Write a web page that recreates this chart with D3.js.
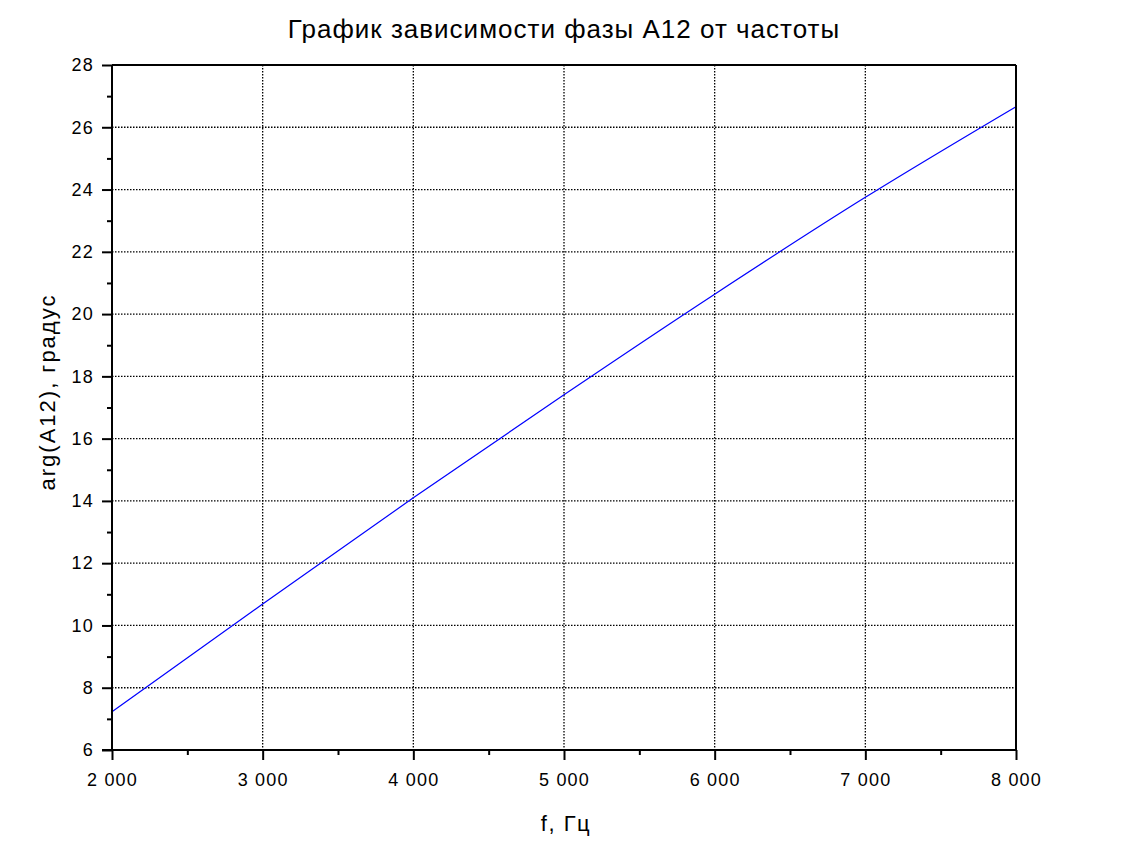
<!DOCTYPE html>
<html>
<head>
<meta charset="utf-8">
<script src="https://cdn.jsdelivr.net/npm/d3@7"></script>
<style>
  html, body { margin: 0; padding: 0; background: #fff; }
  text { font-family: "Liberation Sans", Arial, sans-serif; fill: #000; }
</style>
</head>
<body>
<svg id="chart" width="1124" height="854"></svg>
<script>
const freqs = [2000, 3000, 4000, 5000, 6000, 7000, 8000];
const phase = [7.23, 10.69, 14.1, 17.41, 20.64, 23.75, 26.66];
const xTicks = [2000, 3000, 4000, 5000, 6000, 7000, 8000];
const xMinorTicks = [2500, 3500, 4500, 5500, 6500, 7500];
const yTicks = [6, 8, 10, 12, 14, 16, 18, 20, 22, 24, 26, 28];
const yMinorTicks = [7, 9, 11, 13, 15, 17, 19, 21, 23, 25, 27];
const titleText = "График зависимости фазы A12 от частоты";
const xLabel = "f, Гц";
const yLabel = "arg(A12), градус";

const svg = d3.select("#chart");
const L = 112, R = 1016, T = 65, B = 750;
const x = d3.scaleLinear().domain([2000, 8000]).range([L, R]);
const y = d3.scaleLinear().domain([6, 28]).range([B, T]);
const fmt = v => d3.format(",")(v).replace(/,/g, " ");

// grid
const grid = svg.append("g").attr("stroke", "#000").attr("stroke-width", 1.3)
  .attr("stroke-dasharray", "1.5,1.5");
grid.selectAll(".gx").data(xTicks.slice(1, -1)).enter().append("line")
  .attr("x1", d => x(d)).attr("x2", d => x(d)).attr("y1", T).attr("y2", B);
grid.selectAll(".gy").data(yTicks.slice(1, -1)).enter().append("line")
  .attr("x1", L).attr("x2", R).attr("y1", d => y(d)).attr("y2", d => y(d));

// data line
svg.append("path").datum(freqs.map((f, i) => [f, phase[i]]))
  .attr("fill", "none").attr("stroke", "#0000ff").attr("stroke-width", 1.2)
  .attr("d", d3.line().curve(d3.curveMonotoneX).x(d => x(d[0])).y(d => y(d[1])));

// frame: top and right
svg.append("line").attr("x1", L).attr("x2", R).attr("y1", T).attr("y2", T)
  .attr("stroke", "#000").attr("stroke-width", 2);
svg.append("line").attr("x1", R).attr("x2", R).attr("y1", T).attr("y2", B)
  .attr("stroke", "#000").attr("stroke-width", 2);

// axes
const xAxis = svg.append("g").attr("transform", `translate(0,${B})`)
  .call(d3.axisBottom(x).tickValues(xTicks).tickFormat(fmt).tickSize(10).tickPadding(13));
const xMinor = svg.append("g").attr("transform", `translate(0,${B})`)
  .call(d3.axisBottom(x).tickValues(xMinorTicks).tickFormat("").tickSize(5));
const yAxis = svg.append("g").attr("transform", `translate(${L},0)`)
  .call(d3.axisLeft(y).tickValues(yTicks).tickSize(10).tickPadding(8));
const yMinor = svg.append("g").attr("transform", `translate(${L},0)`)
  .call(d3.axisLeft(y).tickValues(yMinorTicks).tickFormat("").tickSize(5));

[xAxis, xMinor, yAxis, yMinor].forEach(g => {
  g.selectAll("path.domain").attr("stroke", "#000").attr("stroke-width", 2);
  g.selectAll(".tick line").attr("stroke", "#000").attr("stroke-width", 2);
  g.selectAll(".tick text").attr("font-size", 18).attr("letter-spacing", 1.2)
    .attr("font-family", "Liberation Sans, Arial, sans-serif").attr("fill", "#000");
});
[xAxis, xMinor].forEach(g => g.select("path.domain").attr("d", `M${L - 10},0H${R}`));
[yAxis, yMinor].forEach(g => g.select("path.domain").attr("d", `M0,${B}V${T}`));

// labels
svg.append("text").attr("x", 564).attr("y", 38).attr("text-anchor", "middle")
  .attr("font-size", 26).attr("letter-spacing", 1).text(titleText);
svg.append("text").attr("x", 566).attr("y", 831).attr("text-anchor", "middle")
  .attr("font-size", 22).attr("letter-spacing", 1.5).text(xLabel);
svg.append("text").attr("transform", "translate(55,392) rotate(-90)").attr("text-anchor", "middle")
  .attr("font-size", 22).attr("letter-spacing", 2).text(yLabel);
</script>
</body>
</html>
